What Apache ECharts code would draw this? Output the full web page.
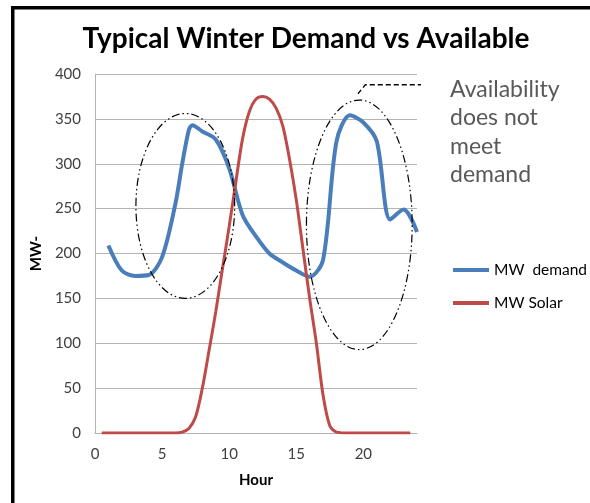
<!DOCTYPE html>
<html>
<head>
<meta charset="utf-8">
<script src="https://cdn.jsdelivr.net/npm/echarts@6/dist/echarts.min.js"></script>
<style>
  html, body { margin: 0; padding: 0; background: #fff; }
  #chart { width: 590px; height: 503px; }
</style>
</head>
<body>
<div id="chart"></div>
<script>
// demand (MW) by hour
var demandHours = [1, 2, 3, 4, 5, 6, 6.5, 7, 7.25, 8, 9, 10, 11, 12, 13, 14, 15, 16, 17, 18, 19, 20, 21, 22, 23, 24]
var demandValues = [209, 181, 175, 176, 196, 256, 300, 338, 343, 336, 327, 295, 243, 219, 200, 190, 181, 174, 193, 325, 354, 346, 325, 238, 249, 224]

// solar output (MW)
var solarHours = [0.5, 1, 2, 3, 4, 5, 6, 6.5, 7, 7.5, 8, 8.5, 9, 9.5, 10, 10.5, 11, 11.5, 12, 12.5, 13, 13.5, 14, 14.5, 15, 15.5, 16, 16.5, 17, 17.5, 18, 19, 20, 21, 22, 23, 23.5]
var solarValues = [0, 0, 0, 0, 0, 0, 0, 1, 5, 18, 50, 92, 135, 183, 230, 280, 328, 358, 372, 375, 372, 362, 342, 305, 260, 205, 150, 100, 42, 8, 1, 0, 0, 0, 0, 0, 0]

var seriesNames = ['MW  demand', 'MW Solar']
var noteLines = ['Availability', 'does not', 'meet', 'demand']

// annotation shapes in data units: [centerHour, centerMW, radiusHours, radiusMW]
var ellipses = [[6.73, 253, 3.68, 103], [19.7, 232, 3.94, 139]]
var dashedPath = [[19.6, 378], [20.15, 388], [24.3, 388]]

var font = 'Lato, "Open Sans", sans-serif'
var myChart = echarts.init(document.getElementById('chart'))

function pairs (xs, ys) {
  return xs.map(function (x, i) { return [x, ys[i]] })
}

myChart.setOption({
  animation: false,
  backgroundColor: '#fff',
  title: {
    text: 'Typical Winter Demand vs Available',
    left: 301,
    textAlign: 'center',
    top: 20,
    textStyle: { fontFamily: font, fontSize: 28, fontWeight: 'bold', color: '#000' }
  },
  grid: { left: 95, top: 74, right: 173, bottom: 70 },
  legend: {
    data: seriesNames,
    orient: 'vertical',
    left: 448,
    top: 257,
    itemWidth: 36,
    itemHeight: 4,
    itemGap: 17,
    icon: 'rect',
    textStyle: { fontFamily: font, fontSize: 15.5, color: '#000', lineHeight: 16 }
  },
  xAxis: {
    type: 'value',
    min: 0,
    max: 24,
    interval: 5,
    name: 'Hour',
    nameLocation: 'middle',
    nameGap: 40,
    nameTextStyle: { fontFamily: font, fontSize: 15, fontWeight: 'bold', color: '#000' },
    axisLine: { lineStyle: { color: '#b3b3b3' } },
    axisTick: { show: false },
    splitLine: { show: false },
    axisLabel: { showMaxLabel: false, fontFamily: font, fontSize: 15, color: '#404040', margin: 14 }
  },
  yAxis: {
    type: 'value',
    min: 0,
    max: 400,
    interval: 50,
    name: 'MW-',
    nameLocation: 'middle',
    nameGap: 51,
    nameTextStyle: { fontFamily: font, fontSize: 15, fontWeight: 'bold', color: '#000' },
    axisLine: { show: true, lineStyle: { color: '#b3b3b3' } },
    axisTick: { show: false },
    splitLine: { lineStyle: { color: '#b3b3b3' } },
    axisLabel: { fontFamily: font, fontSize: 15, color: '#404040', margin: 14 }
  },
  series: [
    {
      name: seriesNames[0],
      type: 'line',
      data: pairs(demandHours, demandValues),
      smooth: 0.3,
      showSymbol: false,
      color: '#4A7EBB',
      lineStyle: { width: 4 }
    },
    {
      name: seriesNames[1],
      type: 'line',
      data: pairs(solarHours, solarValues),
      smooth: 0.3,
      showSymbol: false,
      color: '#BE4B48',
      lineStyle: { width: 3 }
    }
  ]
})

// annotations placed through the grid's own scales
var dashStyle = [8, 3, 1.5, 3, 1.5, 3]
var elements = ellipses.map(function (e) {
  var c = myChart.convertToPixel({ gridIndex: 0 }, [e[0], e[1]])
  var edge = myChart.convertToPixel({ gridIndex: 0 }, [e[0] + e[2], e[1] + e[3]])
  return {
    type: 'ellipse',
    shape: { cx: c[0], cy: c[1], rx: edge[0] - c[0], ry: c[1] - edge[1] },
    style: { fill: 'none', stroke: '#000', lineWidth: 1.2, lineDash: dashStyle },
    z: 10
  }
})
elements.push({
  type: 'polyline',
  shape: { points: dashedPath.map(function (p) { return myChart.convertToPixel({ gridIndex: 0 }, p) }) },
  style: { fill: 'none', stroke: '#000', lineWidth: 1.3, lineDash: [5, 3] },
  z: 10
})
elements.push({
  type: 'text',
  left: 450,
  top: 75,
  style: { text: noteLines.join('\n'), fontFamily: font, fontSize: 23, lineHeight: 28.5, fill: '#595959' }
})
// frame lines
elements.push({ type: 'rect', shape: { x: 11, y: 6, width: 579, height: 3.5 }, style: { fill: '#000' } })
elements.push({ type: 'rect', shape: { x: 11, y: 6, width: 3.5, height: 497 }, style: { fill: '#000' } })

myChart.setOption({ graphic: { elements: elements } })
</script>
</body>
</html>
